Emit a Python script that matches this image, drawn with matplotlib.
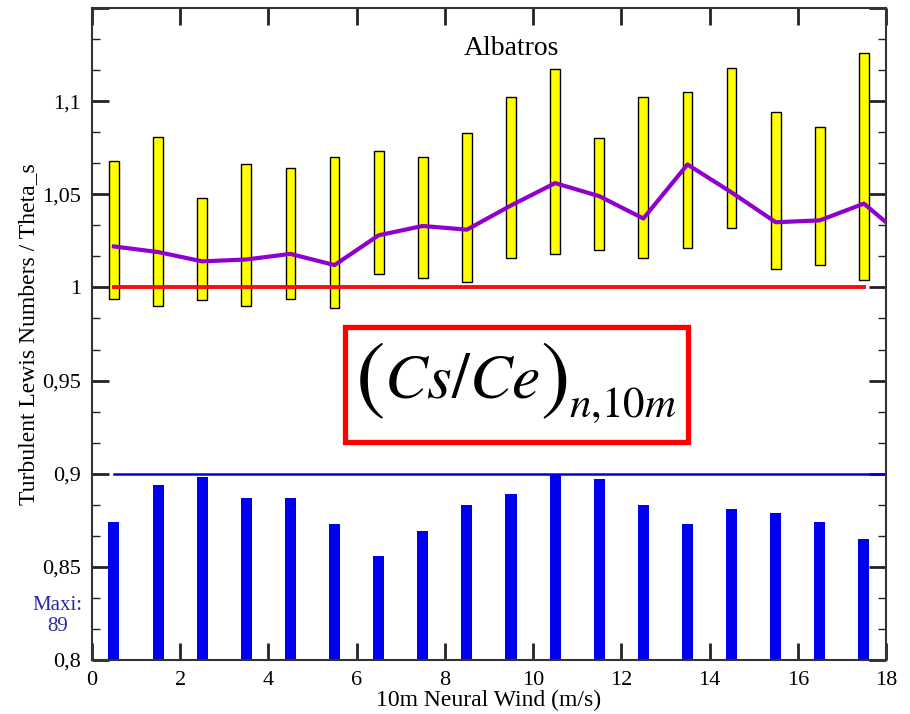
import numpy as np
import matplotlib
matplotlib.use('Agg')
import matplotlib.pyplot as plt
from matplotlib.patches import Rectangle
from matplotlib.ticker import MultipleLocator, FuncFormatter

plt.rcParams['font.family'] = ['Liberation Serif', 'DejaVu Serif']
plt.rcParams['mathtext.fontset'] = 'stix'

# wind bins (m/s), centres
wind = np.arange(0.5, 18, 1.0)

# yellow boxes: range of Lewis number / Theta_s per bin
box_low = [0.994, 0.990, 0.993, 0.990, 0.994, 0.989, 1.007, 1.005, 1.003,
           1.016, 1.018, 1.020, 1.016, 1.021, 1.032, 1.010, 1.012, 1.004]
box_high = [1.068, 1.081, 1.048, 1.066, 1.064, 1.070, 1.073, 1.070, 1.083,
            1.102, 1.117, 1.080, 1.102, 1.105, 1.118, 1.094, 1.086, 1.126]

# purple line (mean), last point runs past the frame
mean_x = list(wind) + [18.5]
mean_y = [1.022, 1.019, 1.014, 1.015, 1.018, 1.012, 1.028, 1.033, 1.031,
          1.044, 1.056, 1.049, 1.037, 1.066, 1.051, 1.035, 1.036, 1.045, 1.025]

# blue bars: Cs/Ce ratio per bin
ratio = [0.874, 0.894, 0.898, 0.887, 0.887, 0.873, 0.856, 0.869, 0.883,
         0.889, 0.900, 0.897, 0.883, 0.873, 0.881, 0.879, 0.874, 0.865]

fig = plt.figure(figsize=(9.1, 7.14), dpi=100)
ax = fig.add_axes([0.101, 0.0756, 0.8726, 0.9132])

base = 0.8
ax.bar(wind, np.array(ratio) - base, bottom=base, width=0.25,
       color='#0000F0', zorder=2)
ax.plot([0.5, 18], [0.9, 0.9], color='#0000E0', lw=1.8, zorder=2)

ax.bar(wind, np.array(box_high) - np.array(box_low), bottom=box_low,
       width=0.22, color='#FFFF00', edgecolor='black', linewidth=1.0, zorder=3)
ax.plot([0.5, 17.5], [1.0, 1.0], color='#F01010', lw=2.8, zorder=4)
ax.plot(mean_x, mean_y, color='#9000CC', lw=3.0, zorder=5, clip_on=True)

ax.set_xlim(0, 18)
ax.set_ylim(0.8, 1.15)
ax.xaxis.set_major_locator(MultipleLocator(2))
ax.yaxis.set_major_locator(MultipleLocator(0.05))
ax.yaxis.set_minor_locator(MultipleLocator(0.05 / 3))


def ylab(v, p):
    if v > 1.12:
        return ''
    return ('%g' % round(v, 3)).replace('.', ',')


ax.yaxis.set_major_formatter(FuncFormatter(ylab))

ax.tick_params(which='both', direction='in', top=True, right=True,
               labelsize=16, colors='#222222', labelcolor='black')
ax.tick_params(which='major', length=12, width=2, pad=8)
ax.tick_params(which='minor', length=6, width=1)
for s in ax.spines.values():
    s.set_linewidth(1.5)
    s.set_color('#333333')

ax.set_xlabel('10m Neural Wind (m/s)', fontsize=17, labelpad=0)
ax.set_ylabel('Turbulent Lewis Numbers / Theta_s', fontsize=17, labelpad=2)

ax.text(9.5, 1.128, 'Albatros', fontsize=20, ha='center', va='center')
ax.text(-0.78, 0.8236, 'Maxi:\n89', fontsize=15, color='#2a2aa8',
        ha='center', va='center', linespacing=1.2)

# framed formula (Cs/Ce)_{n,10m} with tall parentheses
ax.add_patch(Rectangle((5.74, 0.917), 7.77, 0.0616, facecolor='white',
                       edgecolor='#FF0000', linewidth=3.8, zorder=6))
core = ax.text(8.39, 0.9411, r'$Cs/Ce$', fontsize=46, ha='center',
               va='baseline', zorder=7)
lpar = ax.annotate(r'$($', xy=(0, 0.5), xycoords=core, xytext=(0, 0),
                   textcoords='offset points', fontsize=64, ha='right',
                   va='center', zorder=7)
rpar = ax.annotate(r'$)$', xy=(1, 0.5), xycoords=core, xytext=(0, 0),
                   textcoords='offset points', fontsize=64, ha='left',
                   va='center', zorder=7)
ax.annotate(r'$n{,}10m$', xy=(1, 0), xycoords=rpar, xytext=(1, 4),
            textcoords='offset points', fontsize=31, ha='left',
            va='baseline', zorder=7)

fig.savefig('out.png', dpi=100)
